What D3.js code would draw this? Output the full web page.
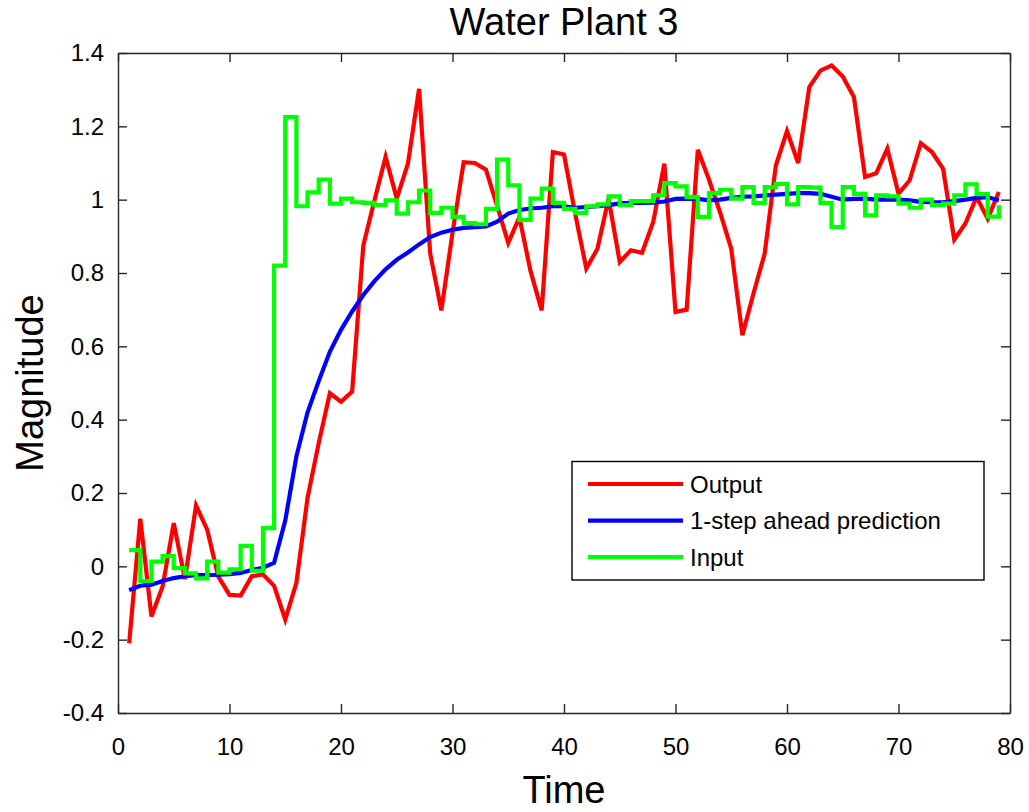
<!DOCTYPE html>
<html>
<head>
<meta charset="utf-8">
<script src="https://cdn.jsdelivr.net/npm/d3@7"></script>
<style>
  body { margin: 0; background: #fff; }
  text { font-family: "Liberation Sans", Arial, sans-serif; fill: #000; }
</style>
</head>
<body>
<svg id="chart" width="1029" height="812"></svg>
<script>
// measured output of the plant
const output = [
  -0.21, 0.13, -0.137, -0.055, 0.118, -0.035, 0.166, 0.1, -0.028, -0.078,
  -0.08, -0.027, -0.022, -0.053, -0.145, -0.045, 0.187, 0.336, 0.472, 0.449,
  0.477, 0.875, 0.998, 1.117, 1.003, 1.098, 1.302, 0.853, 0.698, 0.909,
  1.102, 1.1, 1.082, 0.983, 0.882, 0.952, 0.805, 0.698, 1.13, 1.123,
  0.962, 0.812, 0.866, 1.003, 0.83, 0.862, 0.855, 0.939, 1.098, 0.694,
  0.7, 1.136, 1.055, 0.965, 0.866, 0.63, 0.745, 0.853, 1.093, 1.187,
  1.1, 1.307, 1.352, 1.366, 1.336, 1.28, 1.062, 1.072, 1.139, 1.016,
  1.053, 1.154, 1.13, 1.084, 0.891, 0.935, 1.007, 0.948, 1.021
];

// 1-step ahead prediction
const prediction = [
  -0.065, -0.053, -0.05, -0.04, -0.032, -0.027, -0.024, -0.024, -0.023, -0.021,
  -0.018, -0.01, -0.004, 0.01, 0.125, 0.3, 0.42, 0.505, 0.585, 0.645,
  0.695, 0.74, 0.778, 0.81, 0.836, 0.856, 0.878, 0.898, 0.91, 0.918,
  0.923, 0.925, 0.927, 0.94, 0.962, 0.972, 0.976, 0.978, 0.982, 0.982,
  0.978, 0.98, 0.982, 0.985, 0.99, 0.991, 0.991, 0.992, 0.995, 1.002,
  1.003, 1.002, 0.998, 1.0, 1.005, 1.008, 1.009, 1.011, 1.014, 1.016,
  1.018, 1.018, 1.016, 1.008, 1.0, 1.002, 1.003, 1.0, 1.0, 1.0,
  0.998, 0.994, 0.993, 0.993, 0.996, 1.0, 1.005, 1.007, 0.998
];

// input signal (drawn as stairs)
const input = [
  0.044, -0.04, 0.013, 0.028, -0.005, -0.019, -0.033, 0.013, -0.017, -0.008,
  0.056, -0.012, 0.104, 0.82, 1.225, 0.982, 1.02, 1.055, 0.989, 1.003,
  0.993, 0.991, 0.985, 0.998, 0.962, 0.993, 1.025, 0.964, 0.978, 0.953,
  0.936, 0.933, 0.975, 1.109, 1.039, 0.945, 1.003, 1.03, 0.991, 0.975,
  0.964, 0.982, 0.987, 1.009, 0.985, 0.996, 0.996, 1.012, 1.045, 1.036,
  1.007, 0.953, 1.018, 1.027, 1.003, 1.034, 0.991, 1.034, 1.043, 0.987,
  1.034, 1.033, 0.991, 0.925, 1.034, 1.016, 0.957, 1.012, 1.009, 0.989,
  0.978, 1.0, 0.985, 0.989, 1.012, 1.042, 1.015, 0.954, 0.985
];

const seriesNames = ["Output", "1-step ahead prediction", "Input"];
const xTicks = [0, 10, 20, 30, 40, 50, 60, 70, 80];
const yTicks = [-0.4, -0.2, 0, 0.2, 0.4, 0.6, 0.8, 1, 1.2, 1.4];

// sample index 1..N
const time = output.map((d, i) => i + 1);

const svg = d3.select("#chart"),
  margin = { top: 53, right: 19, bottom: 99, left: 118 },
  width = 1029 - margin.left - margin.right,
  height = 812 - margin.top - margin.bottom,
  tickLen = 9,
  lineW = 4.2,
  axisColor = "#262626",
  colors = ["#ff0000", "#0000ff", "#00ff00"];

svg.append("rect").attr("width", 1029).attr("height", 812).attr("fill", "#fff");

const g = svg.append("g").attr("transform", `translate(${margin.left},${margin.top})`);

const xScale = d3.scaleLinear().domain([0, 80]).range([0, width]);
const yScale = d3.scaleLinear().domain([-0.4, 1.4]).range([height, 0]);

const fmt = (d) => String(+d.toFixed(1));

// clip lines to the axes box
g.append("clipPath").attr("id", "clip")
  .append("rect").attr("width", width).attr("height", height);

const plot = g.append("g").attr("clip-path", "url(#clip)");

const line = d3.line()
  .x((d, i) => xScale(time[i]))
  .y((d) => yScale(d));

const stairs = d3.line()
  .x((d, i) => xScale(time[i]))
  .y((d) => yScale(d))
  .curve(d3.curveStepAfter);

plot.append("path").datum(output)
  .attr("d", line)
  .attr("fill", "none")
  .attr("stroke", colors[0])
  .attr("stroke-width", lineW);

plot.append("path").datum(prediction)
  .attr("d", line)
  .attr("fill", "none")
  .attr("stroke", colors[1])
  .attr("stroke-width", lineW);

plot.append("path").datum(input)
  .attr("d", stairs)
  .attr("fill", "none")
  .attr("stroke", colors[2])
  .attr("stroke-width", lineW);

// Axes with inward ticks on all four sides
const styleAxis = (sel) => {
  sel.selectAll("path, line").attr("stroke", axisColor).attr("stroke-width", 1.4);
  sel.selectAll("text")
    .attr("fill", axisColor)
    .style("font-size", "24px")
    .style("font-family", '"Liberation Sans", Arial, sans-serif');
};

g.append("g")
  .attr("transform", `translate(0,${height})`)
  .call(d3.axisBottom(xScale).tickValues(xTicks).tickFormat(fmt)
    .tickSizeInner(-tickLen).tickSizeOuter(0).tickPadding(25))
  .call(styleAxis);

g.append("g")
  .call(d3.axisLeft(yScale).tickValues(yTicks).tickFormat(fmt)
    .tickSizeInner(-tickLen).tickSizeOuter(0).tickPadding(14))
  .call(styleAxis);

g.append("g")
  .call(d3.axisTop(xScale).tickValues(xTicks).tickFormat("")
    .tickSizeInner(-tickLen).tickSizeOuter(0))
  .call(styleAxis);

g.append("g")
  .attr("transform", `translate(${width},0)`)
  .call(d3.axisRight(yScale).tickValues(yTicks).tickFormat("")
    .tickSizeInner(-tickLen).tickSizeOuter(0))
  .call(styleAxis);

// Title and axis labels
svg.append("text")
  .attr("x", margin.left + width / 2)
  .attr("y", 35)
  .attr("text-anchor", "middle")
  .style("font-size", "38px")
  .text("Water Plant 3");

svg.append("text")
  .attr("x", margin.left + width / 2)
  .attr("y", 803)
  .attr("text-anchor", "middle")
  .style("font-size", "38px")
  .text("Time");

svg.append("text")
  .attr("transform", `translate(43,${margin.top + height / 2}) rotate(-90)`)
  .attr("text-anchor", "middle")
  .style("font-size", "38px")
  .text("Magnitude");

// Legend
const legend = g.append("g")
  .attr("transform", `translate(${572 - margin.left},${461.5 - margin.top})`);

legend.append("rect")
  .attr("width", 412)
  .attr("height", 118.5)
  .attr("fill", "#fff")
  .attr("stroke", "#000")
  .attr("stroke-width", 1.4);

seriesNames.forEach((name, i) => {
  const y = 22.5 + i * 36.6;
  legend.append("line")
    .attr("x1", 16).attr("x2", 111)
    .attr("y1", y).attr("y2", y)
    .attr("stroke", colors[i])
    .attr("stroke-width", lineW);
  legend.append("text")
    .attr("x", 118)
    .attr("y", y)
    .attr("dy", "0.36em")
    .style("font-size", "24px")
    .text(name);
});
</script>
</body>
</html>
